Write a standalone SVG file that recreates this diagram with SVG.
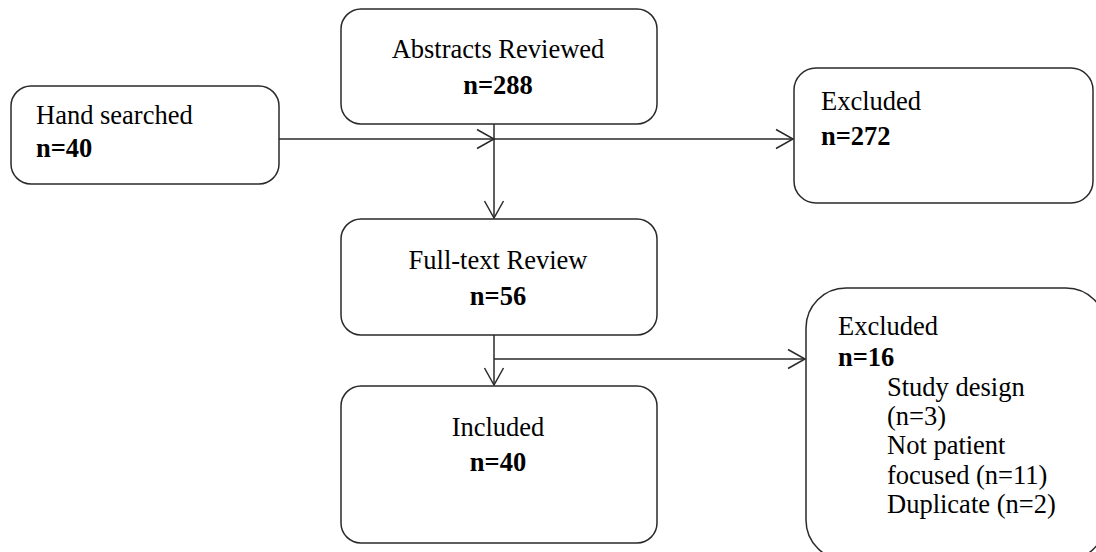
<svg xmlns="http://www.w3.org/2000/svg" width="1096" height="552" viewBox="0 0 1096 552">
<style>
.box{fill:#fff;stroke:#2a2a2a;stroke-width:1.5}
.ln{fill:none;stroke:#2a2a2a;stroke-width:1.5}
text{font-family:"Liberation Serif","Times New Roman",serif;font-size:26.5px;fill:#000}
.b{font-weight:bold}
.c{text-anchor:middle}
</style>
<defs>
<marker id="ah" viewBox="-20 -12 24 24" markerWidth="24" markerHeight="24" refX="0" refY="0" orient="auto" markerUnits="userSpaceOnUse">
<path d="M -17 -9.5 L 0 0 L -17 9.5" fill="none" stroke="#2a2a2a" stroke-width="1.5"/>
</marker>
</defs>
<g id="connectors">
<path class="ln" d="M 279 139 L 494 139" marker-end="url(#ah)"/>
<path class="ln" d="M 494 139 L 793 139" marker-end="url(#ah)"/>
<path class="ln" d="M 494 124 L 494 218" marker-end="url(#ah)"/>
<path class="ln" d="M 494 335 L 494 385" marker-end="url(#ah)"/>
<path class="ln" d="M 494 359 L 805 359" marker-end="url(#ah)"/>
</g>
<g id="abstracts">
<rect class="box" x="341" y="9" width="316" height="115" rx="20"/>
<text class="c" x="498" y="58">Abstracts Reviewed</text>
<text class="c b" x="498" y="94">n=288</text>
</g>
<g id="hand">
<rect class="box" x="11" y="86" width="268" height="98" rx="20"/>
<text x="36" y="124">Hand searched</text>
<text class="b" x="36" y="157">n=40</text>
</g>
<g id="excluded1">
<rect class="box" x="794" y="68" width="299" height="135" rx="22"/>
<text x="821" y="110">Excluded</text>
<text class="b" x="821" y="145">n=272</text>
</g>
<g id="fulltext">
<rect class="box" x="341" y="219" width="316" height="116" rx="20"/>
<text class="c" x="498" y="269">Full-text Review</text>
<text class="c b" x="498" y="305">n=56</text>
</g>
<g id="included">
<rect class="box" x="341" y="386" width="316" height="157" rx="20"/>
<text class="c" x="498" y="436">Included</text>
<text class="c b" x="498" y="471">n=40</text>
</g>
<g id="excluded2">
<rect class="box" x="806" y="288" width="300" height="272" rx="40"/>
<text x="838" y="335">Excluded</text>
<text class="b" x="838" y="366">n=16</text>
<text x="887" y="396">Study design</text>
<text x="887" y="425">(n=3)</text>
<text x="887" y="454">Not patient</text>
<text x="887" y="484">focused (n=11)</text>
<text x="887" y="513">Duplicate (n=2)</text>
</g>
</svg>
